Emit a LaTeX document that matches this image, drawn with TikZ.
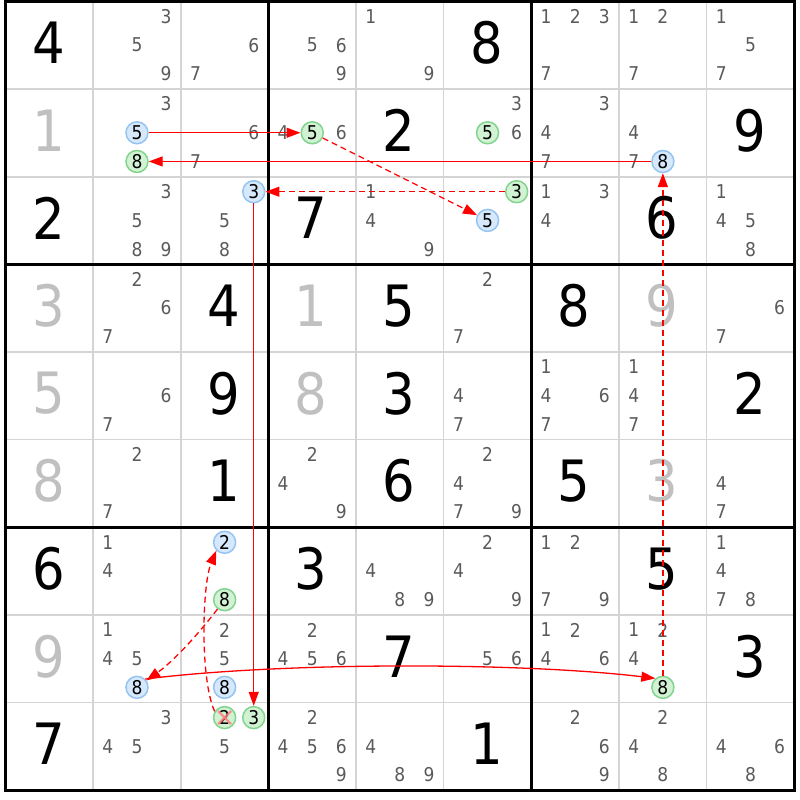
\documentclass[tikz,border=0pt]{standalone}
\usepackage{fontspec}
\setmainfont{DejaVu Sans}[FakeStretch=0.9]
\usetikzlibrary{arrows.meta}
\definecolor{candgray}{HTML}{5A5A5A}
\definecolor{solvedgray}{HTML}{C0C0C0}
\definecolor{thingrid}{HTML}{D4D4D4}
\definecolor{bluefill}{HTML}{D6E8FB}
\definecolor{bluedraw}{HTML}{96C4F2}
\definecolor{greenfill}{HTML}{D2F2D4}
\definecolor{greendraw}{HTML}{82D48E}
\definecolor{linkred}{HTML}{FF0000}
\definecolor{crossred}{HTML}{FF7A7A}
\begin{document}
\begin{tikzpicture}[x=1pt,y=-1pt,
  thinline/.style={draw=thingrid,line width=1.4pt},
  thickline/.style={draw=black,line width=3pt,line cap=rect},
  givendig/.style={inner sep=0pt,text=black,font=\fontsize{57}{57}\selectfont},
  solveddig/.style={inner sep=0pt,text=solvedgray,font=\fontsize{57}{57}\selectfont},
  cand/.style={inner sep=0pt,text=candgray,font=\fontsize{19}{19}\selectfont},
  circblue/.style={circle,minimum size=22pt,inner sep=0pt,line width=1.5pt,draw=bluedraw,fill=bluefill,text=black,font=\fontsize{19}{19}\selectfont},
  circgreen/.style={circle,minimum size=22pt,inner sep=0pt,line width=1.5pt,draw=greendraw,fill=greenfill,text=black,font=\fontsize{19}{19}\selectfont},
  strongarrow/.style={draw=linkred,line width=1.3pt,-{Triangle[length=14pt,width=10pt]}},
  weakarrow/.style={strongarrow,dash pattern=on 6pt off 4pt},
  crossmark/.style={draw=crossred,line width=2.4pt,opacity=0.8}]
\useasboundingbox (0,0) rectangle (800,800);
\fill[white] (0,0) rectangle (800,800);
% thin grid lines
\foreach \i in {1,2,4,5,7,8}{
  \draw[thinline] ({5.5+\i*87.65},1.5) -- ({5.5+\i*87.65},790.35);
  \draw[thinline] (5.5,{1.5+\i*87.65}) -- (794.35,{1.5+\i*87.65});
}
% thick box lines
\foreach \i in {0,3,6,9}{
  \draw[thickline] ({5.5+\i*87.65},1.5) -- ({5.5+\i*87.65},790.35);
  \draw[thickline] (5.5,{1.5+\i*87.65}) -- (794.35,{1.5+\i*87.65});
}
% given digits
\foreach \r/\c/\d in {1/1/4,1/6/8,2/5/2,2/9/9,3/1/2,3/4/7,3/8/6,4/3/4,4/5/5,4/7/8,
  5/3/9,5/5/3,5/9/2,6/3/1,6/5/6,6/7/5,7/1/6,7/4/3,7/8/5,8/5/7,8/9/3,9/1/7,9/6/1}{
  \node[givendig] (g\r\c) at ({5.5+(\c-0.5)*87.65-1},{1.5+(\r-0.5)*87.65-2.5}) {\d};
}
% solved digits
\foreach \r/\c/\d in {2/1/1,4/1/3,4/4/1,4/8/9,5/1/5,5/4/8,6/1/8,6/8/3,8/1/9}{
  \node[solveddig] (g\r\c) at ({5.5+(\c-0.5)*87.65-1},{1.5+(\r-0.5)*87.65-2.5}) {\d};
}
% plain candidates
\foreach \r/\c/\ds in {
 1/2/{3,5,9},1/3/{6,7},1/4/{5,6,9},1/5/{1,9},1/7/{1,2,3,7},1/8/{1,2,7},1/9/{1,5,7},
 2/2/{3},2/3/{6,7},2/4/{4,6},2/6/{3,6},2/7/{3,4,7},2/8/{4,7},
 3/2/{3,5,8,9},3/3/{5,8},3/5/{1,4,9},3/7/{1,3,4},3/9/{1,4,5,8},
 4/2/{2,6,7},4/6/{2,7},4/9/{6,7},
 5/2/{6,7},5/6/{4,7},5/7/{1,4,6,7},5/8/{1,4,7},
 6/2/{2,7},6/4/{2,4,9},6/6/{2,4,7,9},6/9/{4,7},
 7/2/{1,4},7/5/{4,8,9},7/6/{2,4,9},7/7/{1,2,7,9},7/9/{1,4,7,8},
 8/2/{1,4,5},8/3/{2,5},8/4/{2,4,5,6},8/6/{5,6},8/7/{1,2,4,6},8/8/{1,2,4},
 9/2/{3,4,5},9/3/{5},9/4/{2,4,5,6,9},9/5/{4,8,9},9/7/{2,6,9},9/8/{2,4,8},9/9/{4,6,8}}{
  \foreach \d in \ds {
    \pgfmathtruncatemacro\ci{mod(\d-1,3)}
    \pgfmathtruncatemacro\ri{floor((\d-1)/3)}
    \pgfmathsetmacro\px{5.5+(\c-1)*87.65+87.65*(0.168+0.332*\ci)}
    \pgfmathsetmacro\py{1.5+(\r-1)*87.65+87.65*(0.17+0.3275*\ri)}
    \node[cand] (k\r\c\d) at (\px,\py) {\d};
  }
}
% circled candidates
\foreach \r/\c/\d/\col in {2/2/5/blue,3/3/3/blue,3/6/5/blue,2/8/8/blue,7/3/2/blue,8/2/8/blue,8/3/8/blue,
  2/2/8/green,2/4/5/green,2/6/5/green,3/6/3/green,7/3/8/green,9/3/2/green,9/3/3/green,8/8/8/green}{
    \pgfmathtruncatemacro\ci{mod(\d-1,3)}
    \pgfmathtruncatemacro\ri{floor((\d-1)/3)}
    \pgfmathsetmacro\px{5.5+(\c-1)*87.65+87.65*(0.168+0.332*\ci)}
    \pgfmathsetmacro\py{1.5+(\r-1)*87.65+87.65*(0.17+0.3275*\ri)}
    \node[circ\col] (k\r\c\d) at (\px,\py) {\d};
}
% elimination cross
\draw[crossmark] ([xshift=-6.5pt,yshift=6.5pt]k932.center) -- ([xshift=6.5pt,yshift=-6.5pt]k932.center);
\draw[crossmark] ([xshift=-6.5pt,yshift=-6.5pt]k932.center) -- ([xshift=6.5pt,yshift=6.5pt]k932.center);
% chain
\draw[strongarrow] (k225) -- (k245);
\draw[weakarrow] (k245) -- (k365);
\draw[weakarrow] (k363) -- (k333);
\draw[strongarrow] (k333) -- (k933);
\draw[weakarrow] (k932.148) .. controls (200,680) and (202,585) .. (k732.225);
\draw[weakarrow] (k738) .. controls (200,632) and (175,660) .. (k828);
\draw[strongarrow] (k828.45) .. controls (280,662) and (520,662) .. (k888.130);
\draw[weakarrow] (k888) -- (k288);
\draw[strongarrow] (k288) -- (k228);
\end{tikzpicture}
\end{document}
